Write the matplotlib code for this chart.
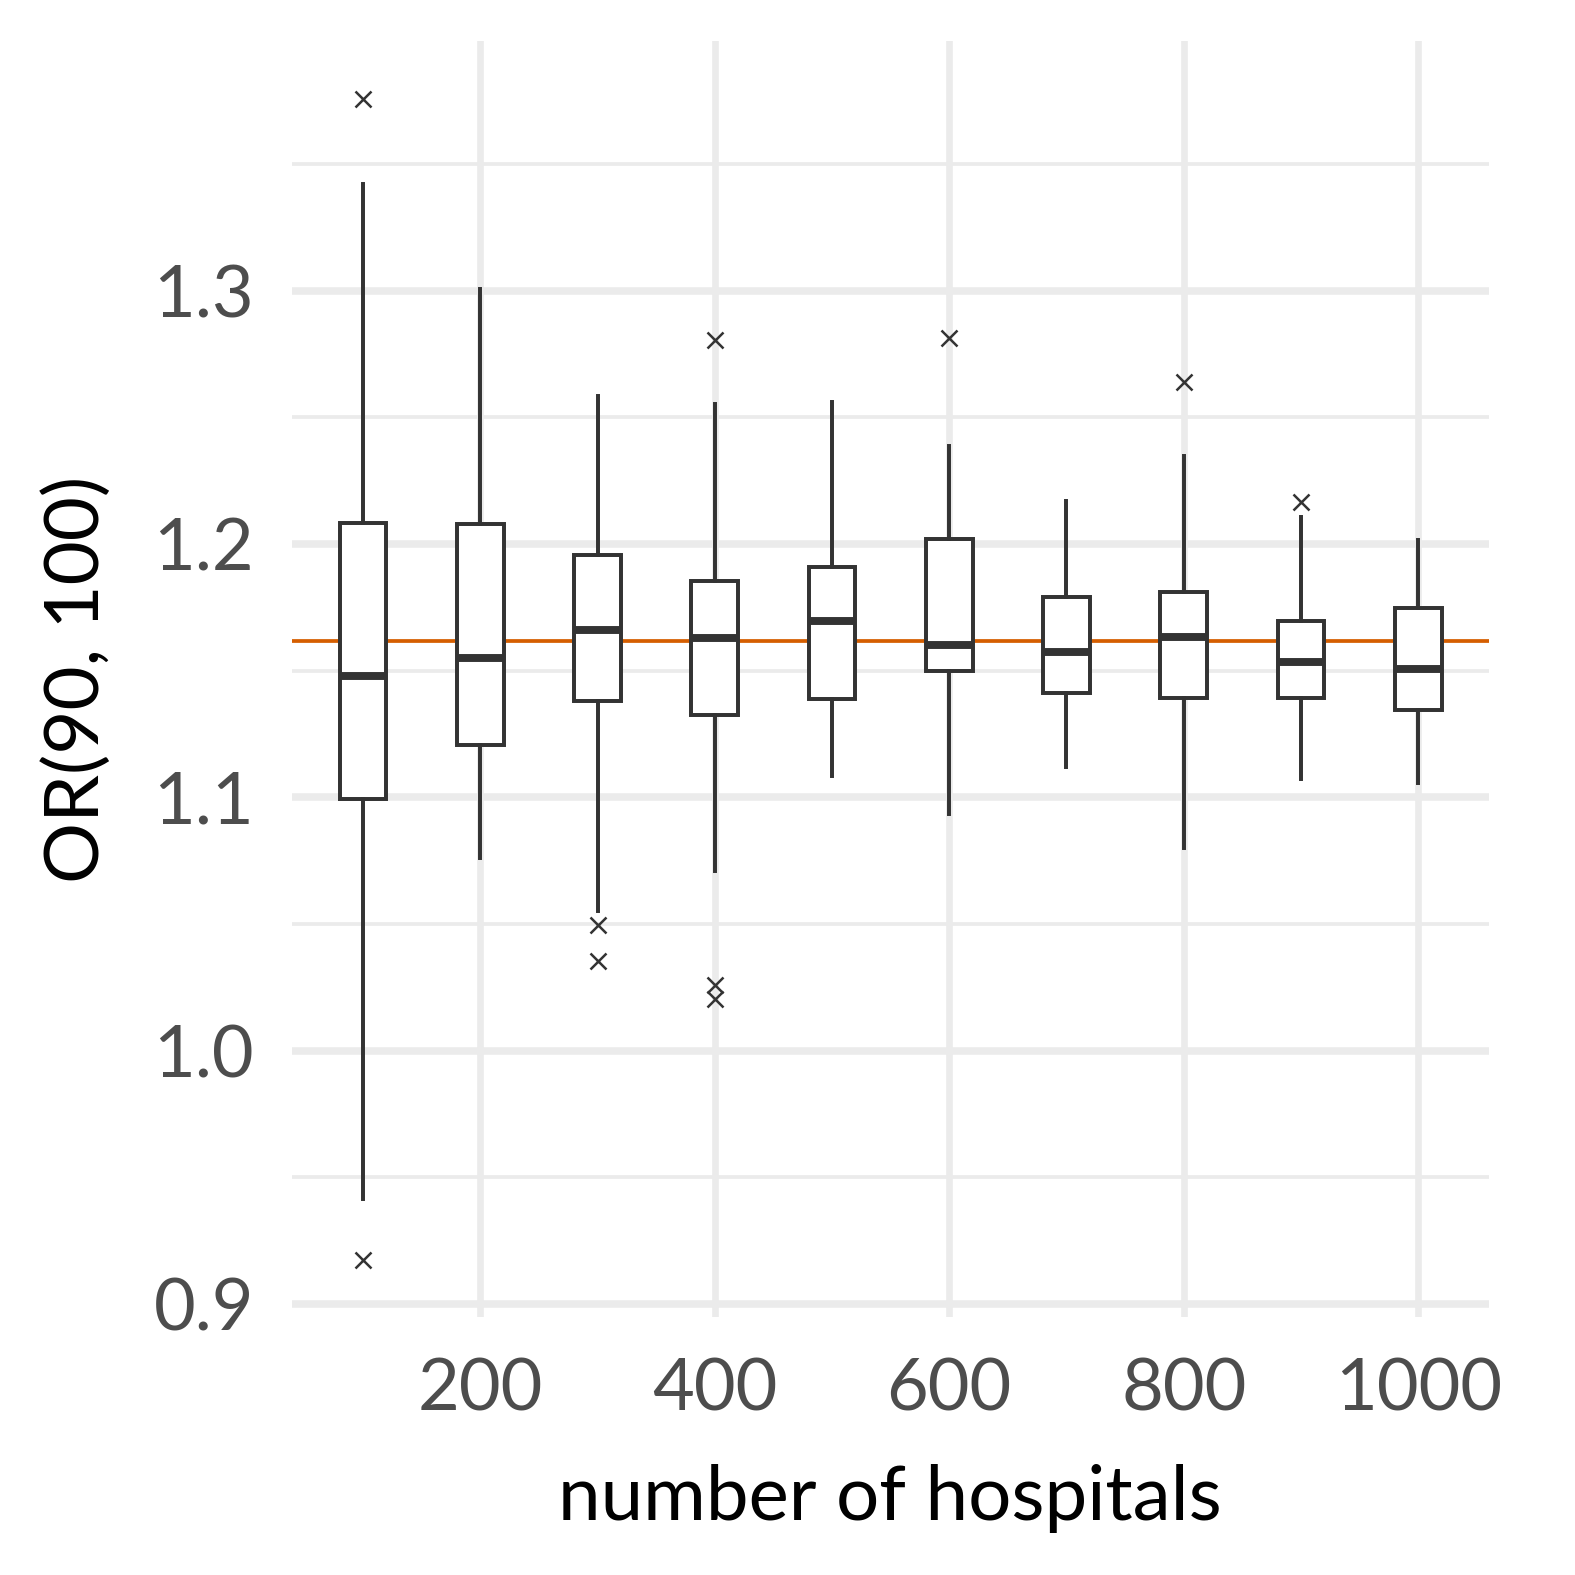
import matplotlib
matplotlib.use("Agg")
import matplotlib.pyplot as plt
from matplotlib.ticker import MultipleLocator, FormatStrFormatter

# number of hospitals
positions = [100, 200, 300, 400, 500, 600, 700, 800, 900, 1000]

# box statistics of OR(90, 100)
whisHigh = [1.3421, 1.3007, 1.2584, 1.2553, 1.2561, 1.2388, 1.2170, 1.2349, 1.2107, 1.2016]
q3 = [1.2081, 1.2077, 1.1957, 1.1852, 1.1910, 1.2021, 1.1792, 1.1811, 1.1697, 1.1748]
medians = [1.1479, 1.1550, 1.1661, 1.1630, 1.1694, 1.1602, 1.1574, 1.1634, 1.1534, 1.1507]
q1 = [1.0992, 1.1208, 1.1382, 1.1326, 1.1389, 1.1499, 1.1410, 1.1392, 1.1392, 1.1345]
whisLow = [0.9413, 1.0762, 1.0552, 1.0710, 1.1085, 1.0933, 1.1121, 1.0798, 1.1071, 1.1056]
outliers = [
    [1.3755, 0.9175],
    [],
    [1.0496, 1.0353],
    [1.2806, 1.0258, 1.0202],
    [],
    [1.2812],
    [],
    [1.2639],
    [1.2165],
    [],
]

trueValue = 1.1617

stats = []
for i in range(len(positions)):
    stats.append({
        "med": medians[i],
        "q1": q1[i],
        "q3": q3[i],
        "whislo": whisLow[i],
        "whishi": whisHigh[i],
        "fliers": outliers[i],
    })

plt.rcParams['font.family'] = ['Lato', 'DejaVu Sans']

fig = plt.figure(figsize=(5.25, 5.25), dpi=300)
left, right, bottom, top = 0.1851, 0.9451, 0.1638, 0.974
ax = fig.add_axes([left, bottom, right - left, top - bottom])

dark = "#333333"
ax.axhline(trueValue, color="#D55E00", lw=0.9, zorder=2)
ax.bxp(stats, positions=positions, widths=40, patch_artist=True,
       showcaps=False, manage_ticks=False,
       boxprops=dict(facecolor="white", edgecolor=dark, lw=0.95),
       medianprops=dict(color=dark, lw=1.9, solid_capstyle="butt"),
       whiskerprops=dict(color=dark, lw=0.95),
       flierprops=dict(marker="x", markersize=4.0, markeredgecolor=dark,
                       markeredgewidth=0.6, linestyle="none"),
       zorder=3)

ax.set_xlim(39, 1060)
ax.set_ylim(0.8948, 1.3986)

ax.set_xticks([200, 400, 600, 800, 1000])
ax.yaxis.set_major_locator(MultipleLocator(0.1))
ax.yaxis.set_minor_locator(MultipleLocator(0.05))
ax.yaxis.set_major_formatter(FormatStrFormatter("%.1f"))

# theme_minimal style grid
ax.grid(axis="y", which="major", color="#EBEBEB", lw=1.8, zorder=0)
ax.grid(axis="y", which="minor", color="#EBEBEB", lw=0.9, zorder=0)
ax.grid(axis="x", which="major", color="#EBEBEB", lw=1.6, zorder=0)
ax.set_axisbelow(True)

for s in ax.spines.values():
    s.set_visible(False)
ax.tick_params(which="both", length=0, labelsize=17.3, labelcolor="#4D4D4D")
ax.tick_params(axis="x", pad=9.6)
ax.tick_params(axis="y", pad=9)

ax.set_xlabel("number of hospitals", fontsize=18.3, color="black", labelpad=10)
ax.set_ylabel("OR(90, 100)", fontsize=18.3, color="black", labelpad=10)

fig.savefig("out.png", dpi=300, facecolor="white")
